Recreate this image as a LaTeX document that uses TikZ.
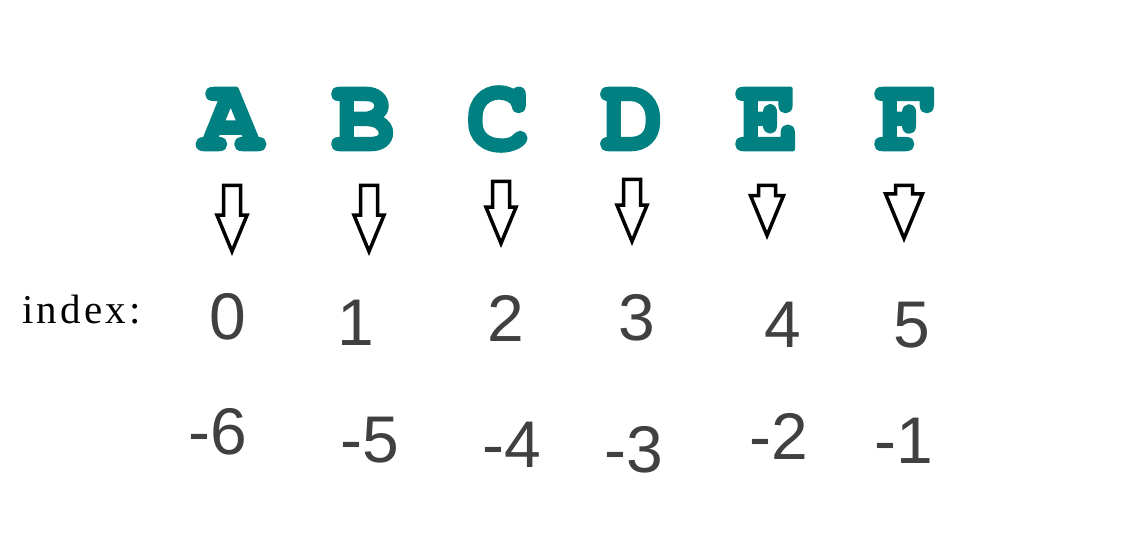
\documentclass[tikz,border=0pt]{standalone}
\usepackage{fontspec}
\usepackage{tikz}
\usetikzlibrary{shapes.arrows}
\newfontfamily\lettfont{TeX Gyre Cursor}
\newfontfamily\idxfont{Liberation Serif}[LetterSpace=8]
\newfontfamily\digfont{Liberation Sans}
\definecolor{tealletter}{RGB}{0,128,128}
% stroked glyphs give the heavy, round-ended look
\newcommand{\lettr}[1]{\special{pdf:literal direct 2 Tr 4 w 1 J 1 j}#1\special{pdf:literal direct 0 Tr}}
\tikzset{%
  lett/.style = {text=tealletter, font=\lettfont\bfseries\fontsize{104}{104}\selectfont,
                 inner sep=0pt},
  arr/.style  = {single arrow, draw=black, fill=white, line width=3.5pt,
                 shape border rotate=270, single arrow tip angle=45,
                 single arrow head extend=6.5pt, inner sep=6.75pt,
                 minimum height=66pt, anchor=tip},
  dig/.style  = {text=black!75, font=\digfont\fontsize{66}{66}\selectfont, inner sep=0pt},
  lbl/.style  = {text=black, font=\idxfont\fontsize{41}{41}\selectfont, inner sep=0pt},
}
\begin{document}
\begin{tikzpicture}[x=1pt, y=-1pt]
  \useasboundingbox (0,0) rectangle (1147,557);
  \fill[white] (0,0) rectangle (1147,557);

  % letters
  \node (letA) [lett] at (231,119) {\lettr{A}};
  \node (letB) [lett] at (363,119) {\lettr{B}};
  \node (letC) [lett] at (498,119) {\lettr{C}};
  \node (letD) [lett] at (632,119) {\lettr{D}};
  \node (letE) [lett] at (767,119) {\lettr{E}};
  \node (letF) [lett] at (906,119) {\lettr{F}};

  % hollow arrows, placed by their tips
  \node (arrA) [arr] at (232,256) {};
  \node (arrB) [arr] at (369,256) {};
  \node (arrC) [arr, minimum height=62pt] at (501,248) {};
  \node (arrD) [arr, minimum height=62pt] at (632,246) {};
  \node (arrE) [arr, minimum height=50pt, single arrow head extend=8pt] at (767,240) {};
  \node (arrF) [arr, minimum height=53pt, single arrow head extend=10pt] at (904,243) {};

  % positive index
  \node (idxLabel) [lbl, anchor=west] at (22,310) {index:};
  \node (posA) [dig] at (228,317) {0};
  \node (posB) [dig] at (356,323) {1};
  \node (posC) [dig] at (506,318) {2};
  \node (posD) [dig] at (637,318) {3};
  \node (posE) [dig] at (783,325) {4};
  \node (posF) [dig] at (912,325) {5};

  % negative index
  \node (negA) [dig] at (218,432) {-6};
  \node (negB) [dig] at (370,440) {-5};
  \node (negC) [dig] at (512,445) {-4};
  \node (negD) [dig] at (634,450) {-3};
  \node (negE) [dig] at (779,436) {-2};
  \node (negF) [dig] at (904,441) {-1};
\end{tikzpicture}
\end{document}
